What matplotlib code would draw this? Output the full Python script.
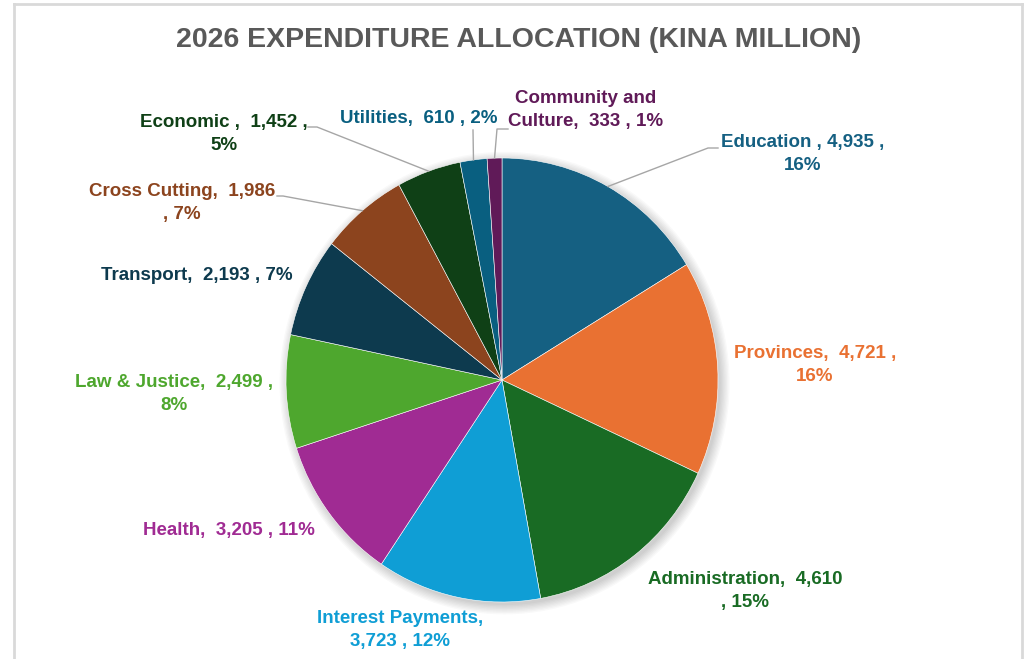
import numpy as np
import matplotlib
matplotlib.use("Agg")
import matplotlib.pyplot as plt
from matplotlib.patches import Ellipse
from matplotlib.lines import Line2D

# 2026 budget, kina million
sectors = ["Education", "Provinces", "Administration", "Interest Payments",
           "Health", "Law & Justice", "Transport", "Cross Cutting",
           "Economic", "Utilities", "Community and Culture"]
amounts = [4935, 4721, 4610, 3723, 3205, 2499, 2193, 1986, 1452, 610, 333]

colors = ["#156082", "#E97132", "#196B24", "#0F9ED5", "#A02B93", "#4EA72E",
          "#0D3A4E", "#8C441E", "#0F4016", "#095F80", "#601A58"]

W, H = 1029, 659
fig = plt.figure(figsize=(W / 100, H / 100), dpi=100)
plt.rcParams["font.family"] = ["Liberation Sans", "DejaVu Sans"]


def px(x, y):
    return x / W, 1 - y / H


# chart frame
frame_kw = dict(color="#D9D9D9", lw=2, transform=fig.transFigure)
fig.add_artist(Line2D([14 / W, 14 / W], [0, 1 - 4 / H], **frame_kw))
fig.add_artist(Line2D([14 / W, 1022 / W], [1 - 4 / H, 1 - 4 / H], **frame_kw))
fig.add_artist(Line2D([1022 / W, 1022 / W], [0, 1 - 4 / H], **frame_kw))

fig.text(*px(519, 40), "2026 EXPENDITURE ALLOCATION (KINA MILLION)",
         ha="center", va="center", fontsize=20.5, fontweight="bold", color="#595959")

# pie box in pixels: centre (502, 380), radii 216 x 222
cx, cy, rx, ry = 502, 380, 216, 222
ax = fig.add_axes([(cx - rx) / W, (H - cy - ry) / H, 2 * rx / W, 2 * ry / H])

# soft shadow behind the pie
for k in range(8):
    ax.add_patch(Ellipse((0.012, -0.014), 2 + 0.012 * k, 2 + 0.012 * k,
                         color="black", alpha=0.025, lw=0, zorder=0, clip_on=False))

wedges, _ = ax.pie(amounts, colors=colors, startangle=90, counterclock=False,
                   radius=1, wedgeprops=dict(edgecolor="white", linewidth=0.4))
ax.set_aspect("auto")
ax.set_xlim(-1, 1)
ax.set_ylim(-1, 1)
ax.axis("off")

total = sum(amounts)
pcts = [round(100 * a / total) for a in amounts]

# label text, line break and centre position (pixels)
label_fmt = {
    "Education": ("{n} , {v} ,\n{p}%", 803, 154),
    "Provinces": ("{n},  {v} ,\n{p}%", 815, 365),
    "Administration": ("{n},  {v}\n, {p}%", 745, 591),
    "Interest Payments": ("{n},\n{v} , {p}%", 400, 630),
    "Health": ("{n},  {v} , {p}%", 229, 530),
    "Law & Justice": ("{n},  {v} ,\n{p}%", 174, 394),
    "Transport": ("{n},  {v} , {p}%", 197, 275),
    "Cross Cutting": ("{n},  {v}\n, {p}%", 182, 203),
    "Economic": ("{n} ,  {v} ,\n{p}%", 224, 134),
    "Utilities": ("{n},  {v} , {p}%", 419, 118),
    "Community and Culture": ("Community and\nCulture,  {v} , {p}%", 586, 110),
}

for name, amt, pct, col in zip(sectors, amounts, pcts, colors):
    fmt, lx, ly = label_fmt[name]
    txt = fmt.format(n=name, v=f"{amt:,}", p=pct)
    fig.text(*px(lx, ly), txt, ha="center", va="center", fontsize=13.5,
             fontweight="bold", color=col, linespacing=1.45)

# leader lines: from slice edge to elbow to label
leaders = {
    "Education": [(708, 148), (718, 148)],
    "Community and Culture": [(497, 129), (508, 129)],
    "Utilities": [(473, 130)],
    "Economic": [(317, 127), (308, 127)],
    "Cross Cutting": [(283, 196), (277, 196)],
}
start = 90.0
for name, amt in zip(sectors, amounts):
    sweep = 360.0 * amt / total
    mid = np.radians(start - sweep / 2)
    start -= sweep
    if name not in leaders:
        continue
    ex, ey = cx + rx * np.cos(mid), cy - ry * np.sin(mid)
    pts = [(ex, ey)] + leaders[name]
    xs = [p[0] / W for p in pts]
    ys = [1 - p[1] / H for p in pts]
    fig.add_artist(Line2D(xs, ys, color="#A6A6A6", lw=1, transform=fig.transFigure))

fig.savefig("out.png", dpi=100, facecolor="white")
